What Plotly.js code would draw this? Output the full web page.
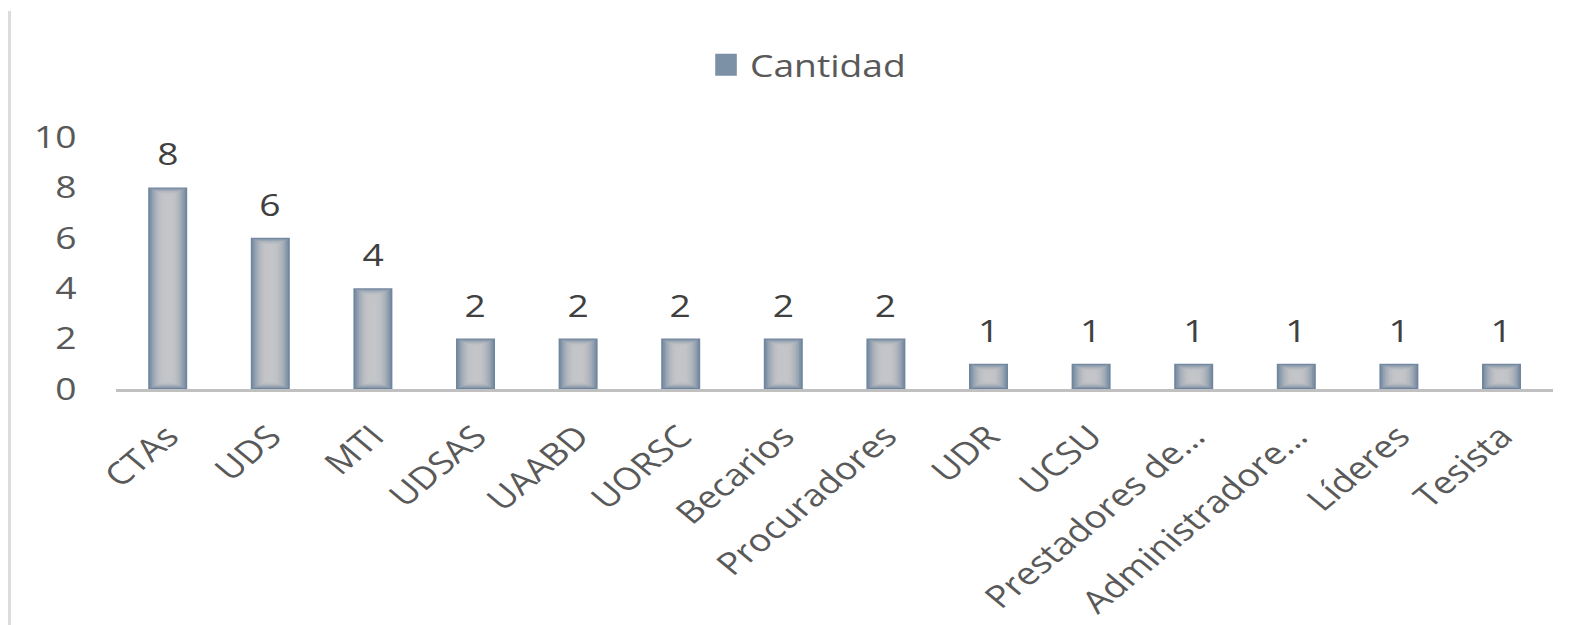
<!DOCTYPE html>
<html><head><meta charset="utf-8">
<script src="https://cdn.plot.ly/plotly-3.0.1.min.js"></script>
<style>
html,body{margin:0;padding:0;background:#fff;overflow:hidden;}
#chart{width:1316px;height:625px;position:absolute;left:0;top:0;transform:scaleX(1.2);transform-origin:0 0;}
#frame{position:absolute;left:8px;top:11px;bottom:0;width:3px;background:#dcdcdc;}
</style>
</head><body>
<div id="chart"></div><div id="frame"></div>
<script>
const categories = ["CTAs","UDS","MTI","UDSAS","UAABD","UORSC","Becarios","Procuradores","UDR","UCSU","Prestadores de…","Administradore…","Líderes","Tesista"];
const cantidad = [8,6,4,2,2,2,2,2,1,1,1,1,1,1];
const yTicks = [0,2,4,6,8,10];
const seriesName = "Cantidad";

const FONT = "Open Sans, Lato, sans-serif";
const FS = 31;
const edge = [112,134,158];
const center = [196,197,200];
const N = 10;
const barW = 0.38;
const pxPerUnit = 25.2;
const traces = [];
for (let i = 0; i < N; i++) {
  const t = i / (N - 1);
  const e = 1 - Math.pow(1 - t, 2.2);
  const c = edge.map((v, k) => Math.round(v + (center[k] - v) * e));
  const w = barW * (1 - 0.85 * t);
  const inset = (8 * t) / pxPerUnit;
  traces.push({
    type: "bar",
    x: categories,
    y: cantidad.map(v => v - 2 * inset),
    base: cantidad.map(() => inset),
    width: w,
    name: seriesName,
    showlegend: i === 0,
    marker: {color: `rgb(${c[0]},${c[1]},${c[2]})`, line: {width: 0}},
    hoverinfo: "skip"
  });
}

const annotations = categories.map((cat, i) => ({
  x: cat, y: cantidad[i], text: String(cantidad[i]), showarrow: false,
  yanchor: "bottom", yshift: 11,
  font: {family: FONT, size: FS, color: "#404040"}
}));

const layout = {
  width: 1316, height: 625,
  margin: {l: 96.7, r: 21.7, t: 137, b: 236},
  paper_bgcolor: "#fff", plot_bgcolor: "#fff",
  barmode: "overlay",
  showlegend: true,
  legend: {orientation: "h", x: 0.4077, xanchor: "left", yref: "container", y: 0.939, yanchor: "top",
    font: {family: FONT, size: FS, color: "#595959"}},
  xaxis: {
    type: "category", showgrid: false, zeroline: false,
    showline: true, linecolor: "#c0c0c0", linewidth: 3,
    tickangle: -45, ticks: "outside", ticklen: 14, tickcolor: "rgba(0,0,0,0)",
    tickfont: {family: FONT, size: FS, color: "#595959"},
    fixedrange: true
  },
  yaxis: {
    range: [0, 10], tickvals: yTicks, ticktext: yTicks.map(String),
    showgrid: false, zeroline: false, showline: false,
    ticks: "outside", ticklen: 26, tickcolor: "rgba(0,0,0,0)",
    tickfont: {family: FONT, size: FS, color: "#595959"},
    fixedrange: true
  },
  annotations: annotations
};
Plotly.newPlot("chart", traces, layout, {displayModeBar: false, staticPlot: true}).then(gd => {
  gd.querySelectorAll(".legend .legendpoints path").forEach(p => {
    p.setAttribute("d", "M9,11H-9V-11H9Z");
    p.style.fill = "rgb(125,145,166)";
  });
});
</script>
</body></html>
